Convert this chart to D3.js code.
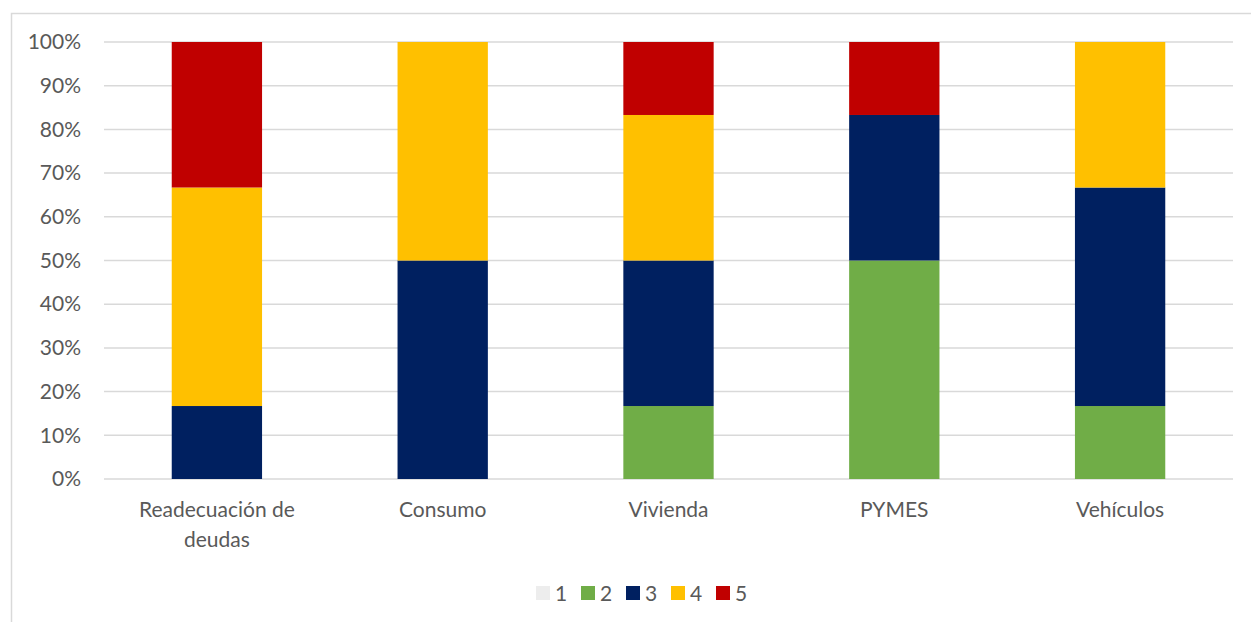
<!DOCTYPE html>
<html lang="es">
<head>
  <meta charset="UTF-8" />
  <title>Distribución por tipo de crédito</title>
  <script src="https://d3js.org/d3.v7.min.js"></script>
  <style>
    body { margin: 0; background: #fff; }
    svg { display: block; font-family: Lato, "Open Sans", sans-serif; }
    .grid line { stroke: #d9d9d9; stroke-width: 1.5px; }
    .axis text, .legend text { fill: #595959; font-size: 21px; }
  </style>
</head>
<body>
  <svg width="1251" height="622"></svg>
  <script>
    const categories = ["Readecuación de deudas", "Consumo", "Vivienda", "PYMES", "Vehículos"];
    const seriesNames = ["1", "2", "3", "4", "5"];
    // shares in percent per category, one array per series
    const s1 = [0, 0, 0, 0, 0];
    const s2 = [0, 0, 16.7, 50, 16.7];
    const s3 = [16.7, 50, 33.3, 33.3, 50];
    const s4 = [50, 50, 33.3, 0, 33.3];
    const s5 = [33.3, 0, 16.7, 16.7, 0];
    const yTicks = [0, 10, 20, 30, 40, 50, 60, 70, 80, 90, 100];
    const colors = ["#ededed", "#70ad47", "#002060", "#ffc000", "#c00000"];

    const rows = categories.map((c, i) => ({
      cat: c, "1": s1[i], "2": s2[i], "3": s3[i], "4": s4[i], "5": s5[i]
    }));
    const stacked = d3.stack().keys(seriesNames)(rows);

    const svg = d3.select("svg");
    // outer chart frame
    svg.append("rect")
      .attr("x", 11.5).attr("y", 13.5)
      .attr("width", 1300).attr("height", 700)
      .attr("fill", "none").attr("stroke", "#d9d9d9").attr("stroke-width", 1.5);

    const plotL = 104, plotR = 1233, plotT = 42, plotB = 479;

    const x = d3.scaleBand().domain(categories).range([plotL, plotR])
      .paddingInner(0.6).paddingOuter(0.3);
    const y = d3.scaleLinear().domain([0, 100]).range([plotB, plotT]);

    svg.append("g").attr("class", "grid")
      .selectAll("line").data(yTicks).join("line")
      .attr("x1", plotL).attr("x2", plotR)
      .attr("y1", d => y(d)).attr("y2", d => y(d));

    const yAxis = svg.append("g").attr("class", "axis")
      .attr("transform", `translate(${plotL},0)`)
      .call(d3.axisLeft(y).tickValues(yTicks).tickFormat(d => d + "%").tickSize(0).tickPadding(23));
    yAxis.select(".domain").remove();
    yAxis.attr("font-family", null).attr("font-size", null);

    svg.append("g").selectAll("g").data(stacked).join("g")
      .attr("fill", (d, i) => colors[i])
      .selectAll("rect").data(d => d).join("rect")
      .attr("x", d => x(d.data.cat))
      .attr("width", x.bandwidth())
      .attr("y", d => y(d[1]))
      .attr("height", d => y(d[0]) - y(d[1]));

    // category labels, wrapped like the original
    const labelLines = {"Readecuación de deudas": ["Readecuación de", "deudas"]};
    const xl = svg.append("g").attr("class", "axis");
    categories.forEach(c => {
      const lines = labelLines[c] || [c];
      const t = xl.append("text")
        .attr("text-anchor", "middle")
        .attr("x", x(c) + x.bandwidth() / 2)
        .attr("y", 517);
      lines.forEach((l, k) => {
        t.append("tspan").attr("x", x(c) + x.bandwidth() / 2)
          .attr("dy", k === 0 ? 0 : 30).text(l);
      });
    });

    const legend = svg.append("g").attr("class", "legend");
    const lg = legend.selectAll("g").data(seriesNames).join("g")
      .attr("transform", (d, i) => `translate(${536 + i * 45},586)`);
    lg.append("rect").attr("width", 14).attr("height", 14)
      .attr("fill", (d, i) => colors[i]);
    lg.append("text").attr("x", 19).attr("y", 14.5).text(d => d);
  </script>
</body>
</html>
